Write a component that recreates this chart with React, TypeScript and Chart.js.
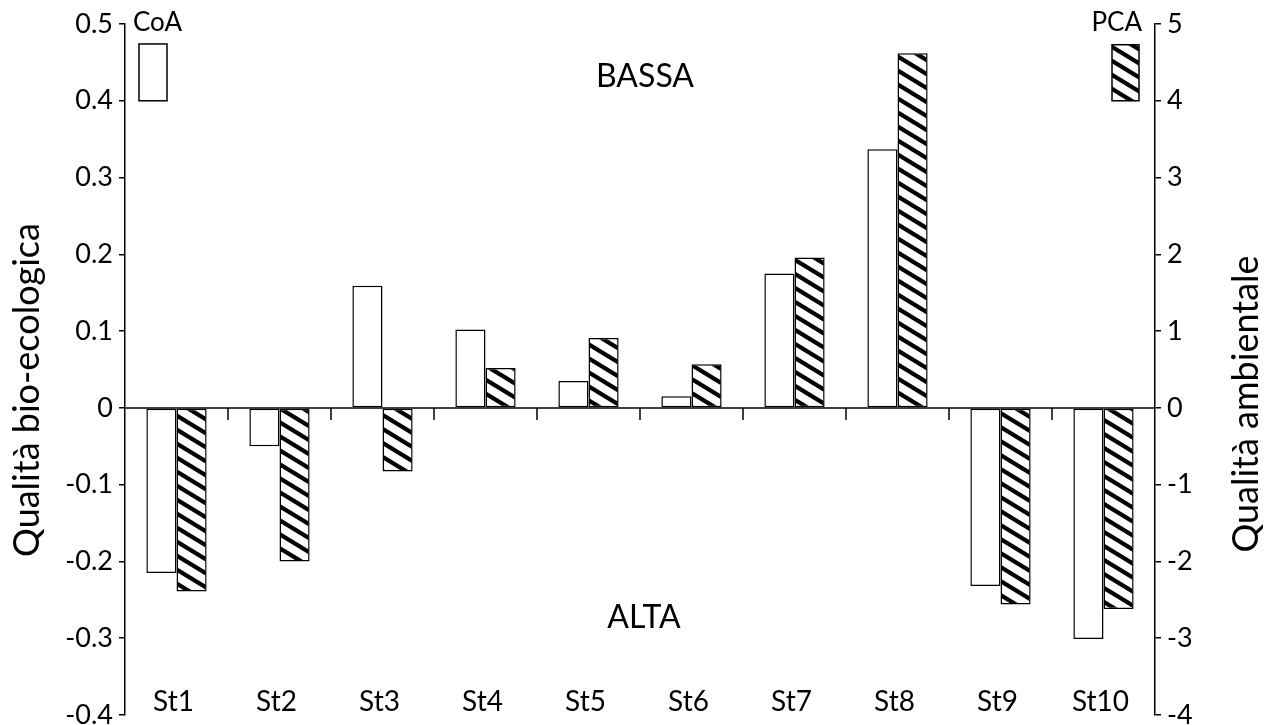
import React, { useEffect, useRef } from 'react';
import { Chart, registerables } from 'chart.js';

Chart.register(...registerables);

// ---- data ----
const categories = ['St1', 'St2', 'St3', 'St4', 'St5', 'St6', 'St7', 'St8', 'St9', 'St10'];
const coaValues = [-0.215, -0.05, 0.159, 0.102, 0.035, 0.015, 0.175, 0.337, -0.232, -0.301];
const pcaValues = [-2.39, -2.0, -0.83, 0.52, 0.91, 0.57, 1.96, 4.62, -2.56, -2.62];
const seriesNames = ['CoA', 'PCA'];
const leftAxisRange = [-0.4, 0.5];
const leftAxisStep = 0.1;
const rightAxisRange = [-4, 5];
const rightAxisStep = 1;
const leftTitle = 'Qualità bio-ecologica';
const rightTitle = 'Qualità ambientale';
const topNote = 'BASSA';
const bottomNote = 'ALTA';
const coaLegendRange = [0.4, 0.474];
const pcaLegendRange = [4, 4.73];

const FONT = 'Lato, "Open Sans", sans-serif';

function makeHatch(): CanvasPattern | string {
  const w = 23;
  const h = 14;
  const c = document.createElement('canvas');
  c.width = w;
  c.height = h;
  const g = c.getContext('2d');
  if (!g) return '#000';
  g.fillStyle = '#fff';
  g.fillRect(0, 0, w, h);
  g.strokeStyle = '#000';
  g.lineWidth = 4.2;
  for (const off of [-w, 0, w]) {
    g.beginPath();
    g.moveTo(off - w, -h);
    g.lineTo(off + 2 * w, 2 * h);
    g.stroke();
  }
  const p = g.createPattern(c, 'repeat');
  return p || '#000';
}

const decorPlugin = {
  id: 'decor',
  afterDatasetsDraw(chart: any) {
    const { ctx, chartArea, scales } = chart;
    const x = scales.x;
    const y = scales.y;
    const y1 = scales.y1;
    ctx.save();
    // zero line
    const zy = y.getPixelForValue(0);
    ctx.strokeStyle = '#000';
    ctx.lineWidth = 1.5;
    ctx.beginPath();
    ctx.moveTo(chartArea.left, zy);
    ctx.lineTo(chartArea.right, zy);
    ctx.stroke();
    // category boundary ticks
    for (let i = 1; i < categories.length; i++) {
      const bx = (x.getPixelForValue(i - 1) + x.getPixelForValue(i)) / 2;
      ctx.beginPath();
      ctx.moveTo(bx, zy);
      ctx.lineTo(bx, zy + 12);
      ctx.stroke();
    }
    // category labels
    ctx.fillStyle = '#000';
    ctx.font = `28px ${FONT}`;
    ctx.textAlign = 'center';
    ctx.textBaseline = 'alphabetic';
    categories.forEach((c, i) => {
      ctx.fillText(c, x.getPixelForValue(i) - 3, 711);
    });
    // notes
    ctx.font = `32px ${FONT}`;
    ctx.fillText(topNote, 645, 87);
    ctx.fillText(bottomNote, 644, 628);
    // legend
    ctx.font = `26px ${FONT}`;
    ctx.textAlign = 'left';
    ctx.fillText(seriesNames[0], 133, 31);
    ctx.textAlign = 'right';
    ctx.fillText(seriesNames[1], 1142, 31);
    ctx.lineWidth = 1.5;
    const cTop = y.getPixelForValue(coaLegendRange[1]);
    const cBot = y.getPixelForValue(coaLegendRange[0]);
    ctx.fillStyle = '#fff';
    ctx.fillRect(chartArea.left + 14, cTop, 28, cBot - cTop);
    ctx.strokeRect(chartArea.left + 14, cTop, 28, cBot - cTop);
    const pTop = y1.getPixelForValue(pcaLegendRange[1]);
    const pBot = y1.getPixelForValue(pcaLegendRange[0]);
    ctx.fillStyle = chart.data.datasets[1].backgroundColor;
    ctx.fillRect(chartArea.right - 43, pTop, 27, pBot - pTop);
    ctx.strokeRect(chartArea.right - 43, pTop, 27, pBot - pTop);
    // axis titles
    ctx.fillStyle = '#000';
    ctx.font = `36px ${FONT}`;
    ctx.textAlign = 'center';
    ctx.textBaseline = 'alphabetic';
    ctx.save();
    ctx.translate(39, 390);
    ctx.rotate(-Math.PI / 2);
    ctx.fillText(leftTitle, 0, 0);
    ctx.restore();
    ctx.save();
    ctx.translate(1258, 404);
    ctx.rotate(-Math.PI / 2);
    ctx.fillText(rightTitle, 0, 0);
    ctx.restore();
    ctx.restore();
  },
};

export default function App() {
  const ref = useRef<HTMLCanvasElement | null>(null);
  useEffect(() => {
    if (!ref.current) return;
    const hatch = makeHatch();
    const fmt = (v: any) => {
      const n = Math.round(Number(v) * 10) / 10;
      return n === 0 ? '0' : String(n);
    };
    const chart = new Chart(ref.current, {
      type: 'bar',
      data: {
        labels: categories,
        datasets: [
          {
            label: seriesNames[0],
            data: coaValues,
            yAxisID: 'y',
            backgroundColor: '#ffffff',
            borderColor: '#000000',
            borderWidth: 1.5,
            borderSkipped: false,
          },
          {
            label: seriesNames[1],
            data: pcaValues,
            yAxisID: 'y1',
            backgroundColor: hatch as any,
            borderColor: '#000000',
            borderWidth: 1.5,
            borderSkipped: false,
          },
        ],
      },
      options: {
        responsive: false,
        animation: false,
        devicePixelRatio: 1,
        layout: { autoPadding: false, padding: { top: 24, bottom: 10, left: 0, right: 0 } },
        datasets: { bar: { categoryPercentage: 0.585, barPercentage: 1 } },
        plugins: { legend: { display: false }, tooltip: { enabled: false }, title: { display: false } },
        scales: {
          x: { type: 'category', display: false },
          y: {
            position: 'left',
            min: leftAxisRange[0],
            max: leftAxisRange[1],
            ticks: { stepSize: leftAxisStep, color: '#000', font: { family: FONT, size: 27 }, padding: 6, callback: fmt },
            grid: { drawOnChartArea: false, drawTicks: true, tickLength: 6, color: '#000', lineWidth: 1.5 },
            border: { display: true, color: '#000', width: 1.5 },
            afterFit: (s: any) => {
              s.width = 125;
              s.paddingTop = 0;
              s.paddingBottom = 0;
            },
          },
          y1: {
            position: 'right',
            min: rightAxisRange[0],
            max: rightAxisRange[1],
            ticks: { stepSize: rightAxisStep, color: '#000', font: { family: FONT, size: 27 }, padding: 6 },
            grid: { drawOnChartArea: false, drawTicks: true, tickLength: 6, color: '#000', lineWidth: 1.5 },
            border: { display: true, color: '#000', width: 1.5 },
            afterFit: (s: any) => {
              s.width = 115;
              s.paddingTop = 0;
              s.paddingBottom = 0;
            },
          },
        },
      },
      plugins: [decorPlugin],
    } as any);
    return () => chart.destroy();
  }, []);
  return (
    <div style={{ position: 'fixed', left: 0, top: 0, width: 1270, height: 725, background: '#fff' }}>
      <canvas ref={ref} width={1270} height={725} style={{ width: 1270, height: 725, display: 'block' }} />
    </div>
  );
}
